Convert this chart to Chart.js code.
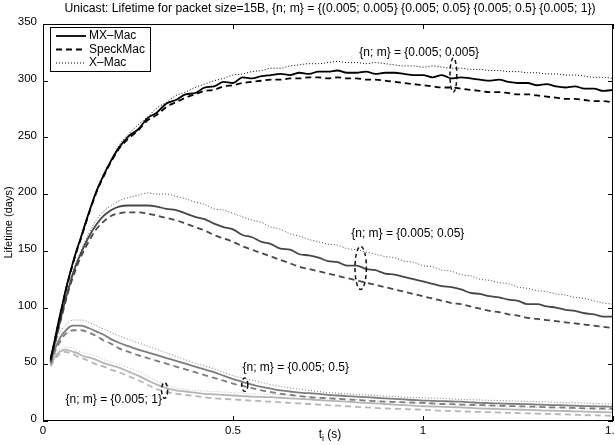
<!DOCTYPE html>
<html><head><meta charset="utf-8">
<script src="https://cdn.jsdelivr.net/npm/chart.js@4/dist/chart.umd.min.js"></script>
<style>html,body{margin:0;padding:0;background:#fff;overflow:hidden}canvas{display:block}</style>
</head><body>
<canvas id="c" width="615" height="445"></canvas>
<script>
// x values: t_i (s)
const T = [0.02,0.03,0.04,0.05,0.06,0.07,0.08,0.09,0.10,0.12,0.14,0.16,0.18,
  0.200,0.225,0.250,0.275,0.300,0.325,0.350,0.375,0.400,0.425,
  0.450,0.475,0.500,0.525,0.550,0.575,0.600,0.625,0.650,0.675,
  0.700,0.725,0.750,0.775,0.800,0.825,0.850,0.875,0.900,0.925,
  0.950,0.975,1.000,1.025,1.050,1.075,1.100,1.125,1.150,1.175,
  1.200,1.225,1.250,1.275,1.300,1.325,1.350,1.375,1.400,1.425,
  1.450,1.475,1.500];

// {n; m} = {0.005; 0.005}
const mx_0005 = [55,70,86,101,116,129,141,152,162,183,202,217,230,
  241,251,257,267,272,280,283,288,289,294,
  295,299,298,303,302,304,305,306,305,307,
  306,308,308,309,307,307,308,306,307,307,
  306,305,305,303,305,302,303,302,301,300,
  301,299,298,298,296,297,295,294,295,293,
  293,291,292];
const speck_0005 = [54,69,85,100,115,128,140,151,161,182,201,216,229,
  240,249,256,265,270,277,281,285,288,291,
  292,295,296,298,299,300,301,301,302,302,
  303,303,302,303,302,302,301,301,300,299,
  298,297,296,295,294,294,293,292,291,290,
  290,289,288,288,287,286,285,284,284,283,
  282,282,281];
const xmac_0005 = [56,71,87,102,117,130,142,153,163,184,203,218,231,
  243,253,261,268,276,281,287,290,294,297,
  300,302,305,306,308,309,311,311,313,314,
  315,315,316,317,316,316,315,316,315,314,
  313,313,312,313,312,311,311,310,310,309,
  309,308,308,307,307,306,306,305,305,304,
  303,303,302];
// {n; m} = {0.005; 0.05}
const mx_005 = [53,67,81,95,108,120,131,140,148,162,173,181,186,
  189,190,190,190,189,187,186,183,180,178,
  174,171,169,164,162,158,156,152,151,147,
  146,144,141,140,137,137,134,133,130,129,
  127,125,123,121,119,118,116,113,112,110,
  109,107,106,103,103,101,100,98,97,95,
  94,92,92];
const speck_005 = [52,66,80,93,106,118,128,137,145,158,169,176,181,
  183,184,184,183,181,179,177,174,171,168,
  164,161,158,154,151,148,145,142,139,136,
  134,132,130,128,126,124,122,120,118,116,
  114,112,110,108,106,104,103,101,99,97,
  96,94,93,91,90,89,88,87,86,85,
  84,83,82];
const xmac_005 = [54,68,82,96,110,122,133,142,150,165,177,185,190,
  194,197,199,201,200,200,198,196,193,191,
  187,186,183,180,177,175,171,169,165,163,
  160,158,156,155,152,151,149,147,145,144,
  141,140,137,136,133,132,129,128,125,124,
  122,121,118,117,115,114,112,111,109,108,
  106,104,103];
// {n; m} = {0.005; 0.5}
const mx_05 = [52,62,70,76,80,83,84,84,84,82,79,76,72,
  69,66,63,60.5,58,55.5,53,50.5,48,45.5,
  43,40,37,34.5,32,30,28.5,27,26,25,
  24.5,24,23,22.5,22,21.5,21,20.5,20,19.5,
  19,18.5,18,17.8,17.5,17.2,17,16.5,16,15.8,
  15.5,15.2,15,14.8,14.5,14.2,14,13.8,13.5,13.2,
  13,12.8,12.5];
const speck_05 = [50,60,67,73,77,79,80,80,80,78,75,71,68,
  64,61,58,55.5,53,50.5,48,45.5,43,40.5,
  38,35.5,33,31,29,27,25.5,24,23,22,
  21,20.5,20,19.5,19,18.5,18,17.5,17,16.8,
  16.5,16.2,16,15.5,15,14.8,14.5,14.2,14,13.8,
  13.5,13.2,13,12.8,12.5,12.2,12,11.8,11.5,11.2,
  11,10.9,10.8];
const xmac_05 = [54,66,75,81,85,88,89,89,89,87,84,81,78,
  75,72,69,66,63,60,57,54,51,48.5,
  46,43,40,38,36,34,32,30.5,29,28,
  27,26,25,24.5,24,23.5,23,22.5,22,21.5,
  21,20.8,20.5,20.2,20,19.5,19,18.8,18.5,18.2,
  18,17.8,17.5,17.2,17,16.8,16.5,16.2,16,15.8,
  15.5,15.2,15];
// {n; m} = {0.005; 1}
const mx_1 = [50,56,60,62,63,62,61,60,58,56,54,51,49,
  47,43.5,40,36,32,29,27,26,25,24,
  23.5,23,22.5,22,21.5,21.2,21,20.5,20,19.5,
  19,18.5,18,17.5,17,16.5,16,15.5,15,14.5,
  14,13.5,13,12.8,12.5,12.2,12,11.5,11,10.8,
  10.5,10.2,10,9.8,9.5,9.2,9,8.8,8.5,8.2,
  8,7.8,7.5];
const speck_1 = [48,54,58,60,61,60,59,57,56,53,50,48,45,
  43,39.5,36,32,28,25.5,24,23,22,21,
  20,19.5,19,18.5,18,17.5,17,16.5,16,15.5,
  15,14.5,14,13.5,13,12.5,12,11.5,11,10.8,
  10.5,10.2,10,9.5,9,8.8,8.5,8.2,8,7.8,
  7.5,7.2,7,6.8,6.5,6.2,6,5.8,5.5,5.2,
  5,4.8,4.5];
const xmac_1 = [52,58,62,64,65,65,64,62,61,59,57,54,52,
  50,47,44,39.5,35,31.5,29,28,27,26.5,
  26,25.5,25,24.5,24,23.8,23.5,23,22.5,22,
  21.5,21,20.5,20,19.5,19,18.5,18,17.5,17,
  16.5,16,15.5,15.2,15,14.5,14,13.8,13.5,13.2,
  13,12.8,12.5,12.2,12,11.8,11.5,11.2,11,10.8,
  10.5,10.2,10];

const X_TICKS = [0, 0.5, 1, 1.5];
const X_TICK_LABELS = ['0', '0.5', '1', '1.5'];
const Y_TICKS = [0, 50, 100, 150, 200, 250, 300, 350];
const Y_TICK_LABELS = ['0', '50', '100', '150', '200', '250', '300', '350'];
const MAC_NAMES = ['MX\u2013Mac', 'SpeckMac', 'X\u2013Mac'];
const TITLE = 'Unicast: Lifetime for packet size=15B, {n; m} = {(0.005; 0.005} {0.005; 0.05} {0.005; 0.5} {0.005; 1})';

const FONT = '"Liberation Sans", Arial, Helvetica, sans-serif';
const groups = [
  {label:'{n; m} = {0.005; 0.005}', color:'#000000', series:[mx_0005, speck_0005, xmac_0005]},
  {label:'{n; m} = {0.005; 0.05}',  color:'#474747', series:[mx_005, speck_005, xmac_005]},
  {label:'{n; m} = {0.005; 0.5}',   color:'#7d7d7d', series:[mx_05, speck_05, xmac_05]},
  {label:'{n; m} = {0.005; 1}',     color:'#b5b5b5', series:[mx_1, speck_1, xmac_1]}
];
const lineStyles = [
  {dash:[], width:1.8},
  {dash:[6,4], width:1.8},
  {dash:[1,2], width:1}
];

const datasets = [];
groups.forEach(g => {
  g.series.forEach((arr, k) => {
    datasets.push({
      label: MAC_NAMES[k] + ' ' + g.label,
      data: T.map((t, i) => ({x: t, y: arr[i]})),
      borderColor: g.color,
      borderWidth: lineStyles[k].width,
      borderDash: lineStyles[k].dash,
      pointRadius: 0,
      fill: false,
      cubicInterpolationMode: 'monotone'
    });
  });
});

// annotation positions in data units
const annotations = [
  {text: groups[0].label, tx: 0.99, ty: 325, ex: 1.08, ey: 305, rx: 0.009, ry: 15},
  {text: groups[1].label, tx: 0.96, ty: 165, ex: 0.836, ey: 135, rx: 0.015, ry: 19},
  {text: groups[2].label, tx: 0.665, ty: 47, ex: 0.531, ey: 32, rx: 0.008, ry: 6},
  {text: groups[3].label, tx: 0.186, ty: 19, ex: 0.32, ey: 27, rx: 0.008, ry: 7}
];

const framePlugin = {
  id: 'frame',
  afterDraw(chart) {
    const ctx = chart.ctx, ca = chart.chartArea;
    const xs = chart.scales.x, ys = chart.scales.y;
    ctx.save();
    // annotations
    ctx.fillStyle = '#000';
    ctx.font = '12px ' + FONT;
    ctx.textAlign = 'center';
    ctx.textBaseline = 'middle';
    annotations.forEach(a => {
      ctx.fillText(a.text, xs.getPixelForValue(a.tx), ys.getPixelForValue(a.ty));
      const cx = xs.getPixelForValue(a.ex), cy = ys.getPixelForValue(a.ey);
      const rx = xs.getPixelForValue(a.ex + a.rx) - cx;
      const ry = cy - ys.getPixelForValue(a.ey + a.ry);
      ctx.beginPath();
      ctx.setLineDash([4, 3]);
      ctx.lineWidth = 1.5;
      ctx.strokeStyle = '#111';
      ctx.ellipse(cx, cy, rx, ry, 0, 0, Math.PI * 2);
      ctx.stroke();
    });
    ctx.setLineDash([]);
    // box
    ctx.strokeStyle = '#000';
    ctx.lineWidth = 1;
    ctx.strokeRect(ca.left + 0.5, ca.top + 0.5, ca.right - ca.left - 1, ca.bottom - ca.top - 1);
    // inward ticks
    ctx.beginPath();
    X_TICKS.forEach(v => {
      const px = Math.round(xs.getPixelForValue(v)) + 0.5;
      ctx.moveTo(px, ca.bottom); ctx.lineTo(px, ca.bottom - 5);
      ctx.moveTo(px, ca.top); ctx.lineTo(px, ca.top + 5);
    });
    Y_TICKS.forEach(v => {
      const py = Math.round(ys.getPixelForValue(v)) + 0.5;
      ctx.moveTo(ca.left, py); ctx.lineTo(ca.left + 5, py);
      ctx.moveTo(ca.right, py); ctx.lineTo(ca.right - 5, py);
    });
    ctx.stroke();
    // tick labels
    ctx.fillStyle = '#000';
    ctx.font = '11.5px ' + FONT;
    ctx.textAlign = 'center';
    ctx.textBaseline = 'middle';
    X_TICKS.forEach((v, i) => ctx.fillText(X_TICK_LABELS[i], xs.getPixelForValue(v), ca.bottom + 10));
    ctx.textAlign = 'right';
    Y_TICKS.forEach((v, i) => ctx.fillText(Y_TICK_LABELS[i], ca.left - 6, ys.getPixelForValue(v) - 2));
    // legend
    const lx = 50, ly = 27, lw = 100, lh = 44;
    ctx.fillStyle = '#fff';
    ctx.fillRect(lx, ly, lw, lh);
    ctx.strokeStyle = '#000';
    ctx.lineWidth = 1;
    ctx.strokeRect(lx + 0.5, ly + 0.5, lw, lh);
    ctx.font = '12px ' + FONT;
    ctx.textAlign = 'left';
    ctx.fillStyle = '#000';
    MAC_NAMES.forEach((name, k) => {
      const y = ly + 9 + k * 13.5;
      ctx.beginPath();
      ctx.setLineDash(lineStyles[k].dash);
      ctx.lineWidth = lineStyles[k].width;
      ctx.moveTo(56, y); ctx.lineTo(86, y);
      ctx.stroke();
      ctx.setLineDash([]);
      ctx.fillText(name, 89, y);
    });
    // title
    ctx.font = '12.2px ' + FONT;
    ctx.textAlign = 'center';
    ctx.fillText(TITLE, (ca.left + ca.right) / 2 + 2, 9);
    // y axis title
    ctx.save();
    ctx.translate(9, (ca.top + ca.bottom) / 2);
    ctx.rotate(-Math.PI / 2);
    ctx.font = '11px ' + FONT;
    ctx.fillText('Lifetime (days)', 0, 0);
    ctx.restore();
    // x axis title with subscript
    ctx.font = '12px ' + FONT;
    ctx.textAlign = 'left';
    const cxm = (ca.left + ca.right) / 2 + 2;
    const wT = ctx.measureText('t').width;
    ctx.font = '9px ' + FONT;
    const wI = ctx.measureText('i').width;
    ctx.font = '12px ' + FONT;
    const wS = ctx.measureText(' (s)').width;
    let x0 = cxm - (wT + wI + wS) / 2;
    ctx.fillText('t', x0, 435);
    ctx.font = '9px ' + FONT;
    ctx.fillText('i', x0 + wT, 439);
    ctx.font = '12px ' + FONT;
    ctx.fillText(' (s)', x0 + wT + wI, 435);
    ctx.restore();
  }
};

new Chart(document.getElementById('c'), {
  type: 'line',
  data: {datasets},
  options: {
    responsive: false,
    animation: false,
    devicePixelRatio: 1,
    layout: {autoPadding: false, padding: {top: 24, right: 2, left: 0, bottom: 0}},
    plugins: {legend: {display: false}, title: {display: false}, tooltip: {enabled: false}},
    scales: {
      x: {
        type: 'linear', min: 0, max: 1.5,
        afterFit: s => { s.height = 24; },
        grid: {display: false}, border: {display: false},
        ticks: {display: false}
      },
      y: {
        type: 'linear', min: 0, max: 350,
        afterFit: s => { s.width = 43; },
        grid: {display: false}, border: {display: false},
        ticks: {display: false}
      }
    }
  },
  plugins: [framePlugin]
});
</script>
</body></html>
